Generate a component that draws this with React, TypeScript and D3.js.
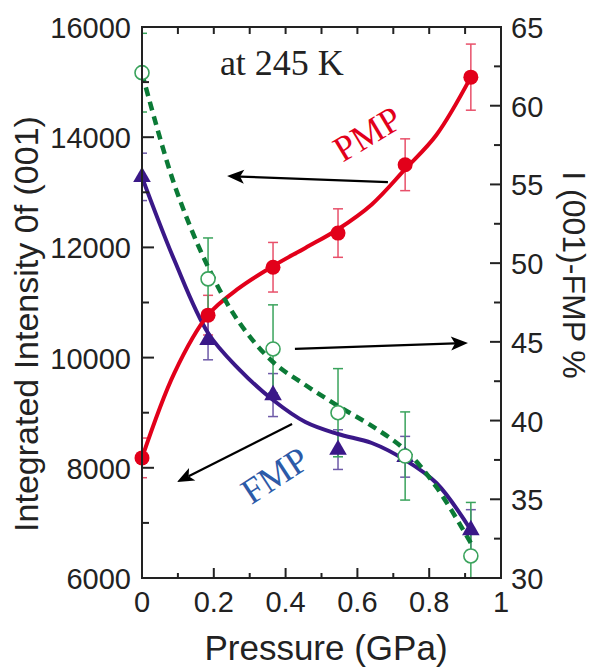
import React from "react";
import * as d3 from "d3";

// ---- data ----
const pressure = [0, 0.184, 0.365, 0.546, 0.733, 0.916];
const pmp = [8180, 10770, 11640, 12260, 13500, 15090];
const pmpErr = [360, 360, 450, 440, 470, 600];
const fmp = [13280, 10320, 9320, 8330, 8200, 6870];
const fmpErr = [430, 360, 390, 360, 370, 370];
const ratio = [62.1, 49.0, 44.55, 40.5, 37.75, 31.4];
const ratioErr = [2.5, 2.6, 2.8, 2.8, 2.8, 3.4];

// fitted curves
const fitX = [0, 0.09, 0.184, 0.27, 0.365, 0.455, 0.546, 0.64, 0.733, 0.82, 0.916];
const fitPmp = [8180, 9720, 10773, 11260, 11660, 11990, 12330, 12780, 13420, 14040, 15090];
const fitFmp = [13276, 11770, 10446, 9792, 9230, 8831, 8613, 8450, 8141, 7724, 6871];
const fitRatio = [62.08, 55.0, 49.76, 46.26, 43.72, 42.26, 40.93, 39.66, 38.13, 35.78, 32.22];

const xTicks = [0, 0.2, 0.4, 0.6, 0.8, 1];
const xTickLabels = ["0", "0.2", "0.4", "0.6", "0.8", "1"];
const yLTicks = [6000, 8000, 10000, 12000, 14000, 16000];
const yLTickLabels = ["6000", "8000", "10000", "12000", "14000", "16000"];
const yRTicks = [30, 35, 40, 45, 50, 55, 60, 65];
const yRTickLabels = ["30", "35", "40", "45", "50", "55", "60", "65"];

const W = 593, H = 670;
const RED = "#e2001a", RED_E = "#e8506a";
const PUR = "#3a1888", PUR_E = "#6e5aa8";
const GRN = "#0b7a36", GRN_E = "#3aa35c";
const BLUE = "#2c5aa8";
const INK = "#222";
const SANS = "'Liberation Sans', Arial, sans-serif";
const SERIF = "'Liberation Serif', 'Times New Roman', serif";

export default function App() {
  const x = d3.scaleLinear().domain([0, 1]).range([142, 501]);
  const yL = d3.scaleLinear().domain([6000, 16000]).range([578, 27]);
  const yR = d3.scaleLinear().domain([30, 65]).range([578, 27]);
  const [x0, x1] = x.range();
  const [yb, yt] = yL.range();

  const lineL = d3.line<number>().x((_, i) => x(fitX[i])).y((d) => yL(d)).curve(d3.curveCatmullRom.alpha(0.5));
  const lineR = d3.line<number>().x((_, i) => x(fitX[i])).y((d) => yR(d)).curve(d3.curveCatmullRom.alpha(0.5));
  const tri = d3.symbol().type(d3.symbolTriangle).size(135)();

  const minorX = d3.range(0.1, 1, 0.2);
  const allX = d3.range(0.1, 1.0, 0.1);
  const minorL = [7000, 9000, 11000, 13000, 15000];
  const minorR = [32.5, 37.5, 42.5, 47.5, 52.5, 57.5, 62.5];

  const errBar = (cx: number, ylo: number, yhi: number, color: string, key: string) => (
    <g key={key} stroke={color} strokeWidth={1.5}>
      <line x1={cx} x2={cx} y1={ylo} y2={yhi} />
      <line x1={cx - 5} x2={cx + 5} y1={ylo} y2={ylo} />
      <line x1={cx - 5} x2={cx + 5} y1={yhi} y2={yhi} />
    </g>
  );

  // annotation arrows in data units
  const arrows = [
    { from: [x(0.685), yL(13186)], to: [x(0.237), yL(13295)] },
    { from: [x(0.426), yR(44.55)], to: [x(0.908), yR(44.93)] },
    { from: [x(0.418), yL(8794)], to: [x(0.0975), yL(7742)] },
  ];

  const arrow = (a: any, i: number) => {
    const [fx, fy] = a.from, [tx, ty] = a.to;
    const ang = Math.atan2(ty - fy, tx - fx);
    const L = 17, Wd = 7;
    const bx = tx - L * Math.cos(ang), by = ty - L * Math.sin(ang);
    const px = -Math.sin(ang) * Wd, py = Math.cos(ang) * Wd;
    const ix = tx - (L - 4) * Math.cos(ang), iy = ty - (L - 4) * Math.sin(ang);
    return (
      <g key={"a" + i}>
        <line x1={fx} y1={fy} x2={ix} y2={iy} stroke="#000" strokeWidth={2.2} />
        <path d={`M${tx},${ty} L${bx + px},${by + py} L${ix},${iy} L${bx - px},${by - py} Z`} fill="#000" />
      </g>
    );
  };

  return (
    <svg width={W} height={H} style={{ position: "absolute", left: 0, top: 0, background: "#fff" }}>
      <defs>
        <clipPath id="plot">
          <rect x={x0} y={yt} width={x1 - x0} height={yb - yt} />
        </clipPath>
      </defs>

      {/* error bars */}
      <g clipPath="url(#plot)">
        {pressure.map((p, i) => errBar(x(p), yL(pmp[i] - pmpErr[i]), yL(pmp[i] + pmpErr[i]), RED_E, "re" + i))}
        {pressure.map((p, i) => errBar(x(p), yL(fmp[i] - fmpErr[i]), yL(fmp[i] + fmpErr[i]), PUR_E, "pe" + i))}
        {pressure.map((p, i) => errBar(x(p), yR(ratio[i] - ratioErr[i]), yR(ratio[i] + ratioErr[i]), GRN_E, "ge" + i))}
      </g>

      {/* curves */}
      <path d={lineL(fitFmp) || ""} fill="none" stroke={PUR} strokeWidth={4} />
      <path d={lineL(fitPmp) || ""} fill="none" stroke={RED} strokeWidth={4} />
      <path d={lineR(fitRatio) || ""} fill="none" stroke={GRN} strokeWidth={4.5} strokeDasharray="9 6" />

      {/* markers */}
      {pressure.map((p, i) => (
        <path key={"t" + i} d={tri || ""} transform={`translate(${x(p)},${yL(fmp[i])})`} fill={PUR} />
      ))}
      {pressure.map((p, i) => (
        <circle key={"r" + i} cx={x(p)} cy={yL(pmp[i])} r={7.5} fill={RED} />
      ))}
      {pressure.map((p, i) => (
        <circle key={"g" + i} cx={x(p)} cy={yR(ratio[i])} r={7} fill="#fff" stroke={GRN_E} strokeWidth={1.6} />
      ))}

      {/* arrows */}
      {arrows.map(arrow)}

      {/* annotations */}
      <text x={x(0.217)} y={yL(15127)} fontFamily={SERIF} fontSize={36} fill={INK}>at 245 K</text>
      <text transform={`translate(${x(0.628)},${yL(14060)}) rotate(-31)`} textAnchor="middle" dominantBaseline="central"
        fontFamily={SERIF} fontSize={36} fill={RED}>PMP</text>
      <text transform={`translate(${x(0.37)},${yL(7860)}) rotate(-33)`} textAnchor="middle" dominantBaseline="central"
        fontFamily={SERIF} fontSize={36} fill={BLUE}>FMP</text>

      {/* frame */}
      <rect x={x0} y={yt} width={x1 - x0} height={yb - yt} fill="none" stroke={INK} strokeWidth={2} />

      {/* x ticks */}
      {xTicks.map((t) => <line key={"xb" + t} x1={x(t)} x2={x(t)} y1={yb} y2={yb - 10} stroke={INK} strokeWidth={2} />)}
      {minorX.map((t) => <line key={"xm" + t} x1={x(t)} x2={x(t)} y1={yb} y2={yb - 5} stroke={INK} strokeWidth={2} />)}
      {allX.map((t) => <line key={"xt" + t} x1={x(t)} x2={x(t)} y1={yt} y2={yt + 7} stroke={INK} strokeWidth={2} />)}
      {/* left ticks */}
      {yLTicks.map((t) => <line key={"yl" + t} x1={x0} x2={x0 + 12} y1={yL(t)} y2={yL(t)} stroke={INK} strokeWidth={2} />)}
      {minorL.map((t) => <line key={"ylm" + t} x1={x0} x2={x0 + 7} y1={yL(t)} y2={yL(t)} stroke={INK} strokeWidth={2} />)}
      {/* right ticks */}
      {yRTicks.map((t) => <line key={"yr" + t} x1={x1} x2={x1 - 11} y1={yR(t)} y2={yR(t)} stroke={INK} strokeWidth={2} />)}
      {minorR.map((t) => <line key={"yrm" + t} x1={x1} x2={x1 - 7} y1={yR(t)} y2={yR(t)} stroke={INK} strokeWidth={2} />)}

      {/* tick labels */}
      <g fontFamily={SANS} fontSize={29} fill={INK}>
        {xTicks.map((t, i) => <text key={"xl" + t} x={x(t)} y={612} textAnchor="middle">{xTickLabels[i]}</text>)}
        {yLTicks.map((t, i) => <text key={"yll" + t} x={131} y={yL(t) + 1} textAnchor="end" dominantBaseline="central">{yLTickLabels[i]}</text>)}
        {yRTicks.map((t, i) => <text key={"yrl" + t} x={511} y={yR(t) + 1} textAnchor="start" dominantBaseline="central">{yRTickLabels[i]}</text>)}
      </g>

      {/* axis titles */}
      <text x={326} y={660} textAnchor="middle" fontFamily={SANS} fontSize={35} fill={INK}>Pressure (GPa)</text>
      <text transform="translate(38,324) rotate(-90)" textAnchor="middle" fontFamily={SANS} fontSize={34} fill={INK}>
        Integrated Intensity 0f (001)
      </text>
      <text transform="translate(563,275) rotate(90)" textAnchor="middle" fontFamily={SANS} fontSize={32} fill={INK}>
        I (001)-FMP %
      </text>
    </svg>
  );
}
